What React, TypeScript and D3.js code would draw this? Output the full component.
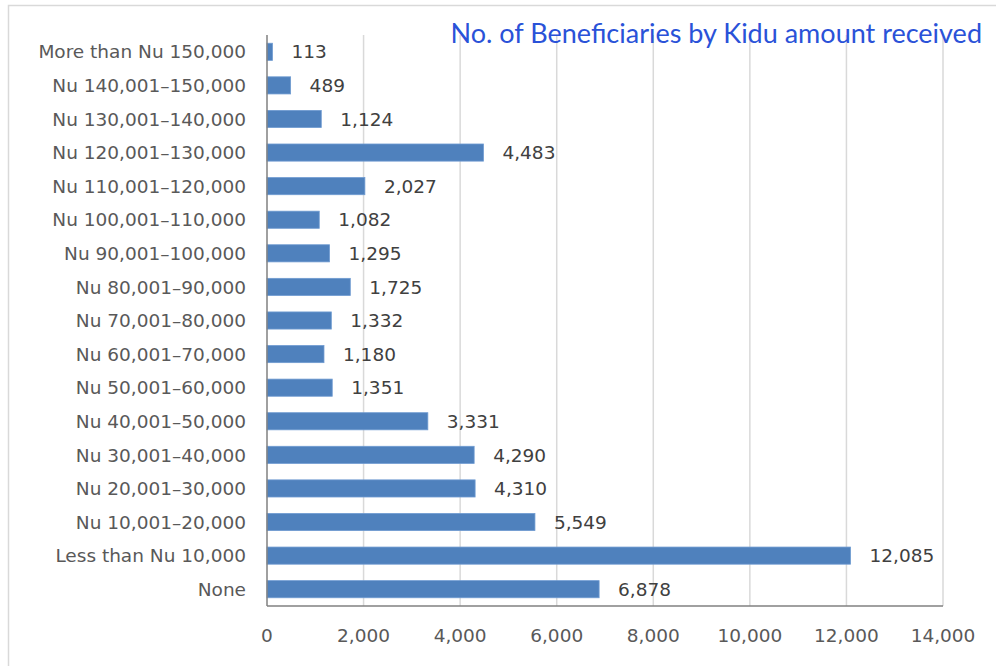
import React, { useRef, useEffect } from 'react';
import * as d3 from 'd3';

// categories top to bottom
const categories: string[] = [
  'More than Nu 150,000',
  'Nu 140,001–150,000',
  'Nu 130,001–140,000',
  'Nu 120,001–130,000',
  'Nu 110,001–120,000',
  'Nu 100,001–110,000',
  'Nu 90,001–100,000',
  'Nu 80,001–90,000',
  'Nu 70,001–80,000',
  'Nu 60,001–70,000',
  'Nu 50,001–60,000',
  'Nu 40,001–50,000',
  'Nu 30,001–40,000',
  'Nu 20,001–30,000',
  'Nu 10,001–20,000',
  'Less than Nu 10,000',
  'None',
];

const beneficiaries: number[] = [
  113, 489, 1124, 4483, 2027, 1082, 1295, 1725, 1332, 1180, 1351, 3331, 4290, 4310, 5549, 12085, 6878,
];

const xTicks: number[] = [0, 2000, 4000, 6000, 8000, 10000, 12000, 14000];

const chartTitle = 'No. of Beneficiaries by Kidu amount received';

const W = 996;
const H = 666;
const FONT = '"DejaVu Sans", Verdana, sans-serif';

export default function App() {
  const svgRef = useRef<SVGSVGElement>(null);

  useEffect(() => {
    if (!svgRef.current) return;
    const svg = d3.select(svgRef.current);
    svg.selectAll('*').remove();

    const margin = { top: 35, right: 53, bottom: 60, left: 267 };
    const plotW = W - margin.left - margin.right;
    const plotH = H - margin.top - margin.bottom;

    // outer chart frame
    svg.append('rect')
      .attr('x', 8.5)
      .attr('y', 5.5)
      .attr('width', W + 20)
      .attr('height', H + 20)
      .attr('fill', '#fff')
      .attr('stroke', '#d9d9d9')
      .attr('stroke-width', 1.5);

    const x = d3.scaleLinear().domain([0, 14000]).range([0, plotW]);
    const y = d3.scaleBand<string>()
      .domain(categories)
      .range([0, plotH])
      .paddingInner(0.49)
      .paddingOuter(0.245);

    const g = svg.append('g').attr('transform', `translate(${margin.left},${margin.top})`);

    // vertical grid lines
    xTicks.filter(t => t > 0).forEach(t => {
      g.append('line')
        .attr('x1', x(t)).attr('x2', x(t))
        .attr('y1', 0).attr('y2', plotH)
        .attr('stroke', '#d9d9d9')
        .attr('stroke-width', 1.5);
    });

    // bars
    g.selectAll('rect.bar')
      .data(beneficiaries)
      .enter()
      .append('rect')
      .attr('class', 'bar')
      .attr('x', 0)
      .attr('y', (_, i) => y(categories[i]) ?? 0)
      .attr('width', d => x(d))
      .attr('height', y.bandwidth())
      .attr('fill', '#4f81bd')
      .attr('stroke', '#6f9bd1')
      .attr('stroke-width', 0.8);

    // value labels
    g.selectAll('text.val')
      .data(beneficiaries)
      .enter()
      .append('text')
      .attr('class', 'val')
      .attr('x', d => x(d) + 19)
      .attr('y', (_, i) => (y(categories[i]) ?? 0) + y.bandwidth() / 2)
      .attr('dy', '0.36em')
      .attr('font-family', FONT)
      .attr('font-size', 18.5)
      .attr('fill', '#404040')
      .text(d => d3.format(',')(d));

    // axes lines
    g.append('line')
      .attr('x1', 0).attr('x2', 0)
      .attr('y1', 0).attr('y2', plotH)
      .attr('stroke', '#808080')
      .attr('stroke-width', 1.5);
    g.append('line')
      .attr('x1', 0).attr('x2', plotW)
      .attr('y1', plotH).attr('y2', plotH)
      .attr('stroke', '#808080')
      .attr('stroke-width', 1.5);

    // category labels
    categories.forEach(c => {
      g.append('text')
        .attr('x', -21)
        .attr('y', (y(c) ?? 0) + y.bandwidth() / 2)
        .attr('dy', '0.36em')
        .attr('text-anchor', 'end')
        .attr('font-family', FONT)
        .attr('font-size', 18.5)
        .attr('fill', '#595959')
        .text(c);
    });

    // x tick labels
    xTicks.forEach(t => {
      g.append('text')
        .attr('x', x(t))
        .attr('y', plotH + 29)
        .attr('dy', '0.36em')
        .attr('text-anchor', 'middle')
        .attr('font-family', FONT)
        .attr('font-size', 18.5)
        .attr('fill', '#595959')
        .text(d3.format(',')(t));
    });

    // title
    svg.append('text')
      .attr('x', 982)
      .attr('y', 43)
      .attr('text-anchor', 'end')
      .attr('font-family', 'Lato, "Open Sans", sans-serif')
      .attr('font-size', 27)
      .attr('fill', '#2a52d8')
      .text(chartTitle);
  }, []);

  return (
    <div style={{ position: 'fixed', left: 0, top: 0, width: W, height: H, overflow: 'hidden', background: '#fff' }}>
      <svg ref={svgRef} width={W} height={H} />
    </div>
  );
}
